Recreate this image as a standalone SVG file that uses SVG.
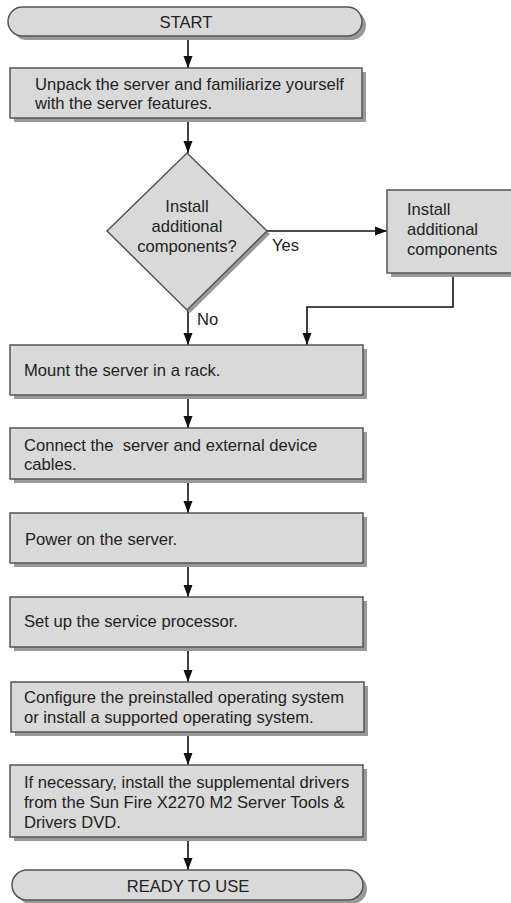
<svg xmlns="http://www.w3.org/2000/svg" width="511" height="903" viewBox="0 0 511 903">
<defs>
<style>
.box{fill:#d9d9d9;stroke:#555;stroke-width:1.5}
.sh{fill:#999}
.t{font-family:"Liberation Sans",Arial,sans-serif;font-size:16.6px;fill:#222}
.c{text-anchor:middle}
.ln{fill:none;stroke:#111;stroke-width:1.6}
</style>
<marker id="ah" markerWidth="12" markerHeight="17" refX="16" refY="6" orient="auto" markerUnits="userSpaceOnUse" viewBox="0 0 16 12">
<path d="M0,0 L16,6 L0,12 Z" fill="#111"/>
</marker>
</defs>
<rect width="511" height="903" fill="#fff"/>
<g id="connectors">
<line class="ln" x1="188" y1="37" x2="188" y2="68" marker-end="url(#ah)"/>
<line class="ln" x1="188" y1="118" x2="188" y2="153" marker-end="url(#ah)"/>
<line class="ln" x1="267" y1="231" x2="387" y2="231" marker-end="url(#ah)"/>
<polyline class="ln" points="453,273 453,307 307,307 307,345" marker-end="url(#ah)"/>
<line class="ln" x1="188" y1="310" x2="188" y2="345" marker-end="url(#ah)"/>
<line class="ln" x1="188" y1="395" x2="188" y2="428" marker-end="url(#ah)"/>
<line class="ln" x1="188" y1="479" x2="188" y2="513" marker-end="url(#ah)"/>
<line class="ln" x1="188" y1="563" x2="188" y2="597" marker-end="url(#ah)"/>
<line class="ln" x1="188" y1="647" x2="188" y2="682" marker-end="url(#ah)"/>
<line class="ln" x1="188" y1="732" x2="188" y2="765" marker-end="url(#ah)"/>
<line class="ln" x1="188" y1="837" x2="188" y2="870" marker-end="url(#ah)"/>
<text class="t" x="272" y="251">Yes</text>
<text class="t" x="197" y="325">No</text>
</g>
<g id="start">
<rect class="sh" x="12" y="11" width="354" height="29" rx="14.5"/>
<rect class="box" x="8" y="7" width="354" height="29" rx="14.5"/>
<text class="t c" x="186" y="28">START</text>
</g>
<g id="unpack">
<rect class="sh" x="14" y="72" width="352" height="50"/>
<rect class="box" x="10" y="68" width="352" height="50"/>
<text class="t" x="35" y="90">Unpack the server and familiarize yourself</text>
<text class="t" x="35" y="109">with the server features.</text>
</g>
<g id="decision">
<polygon class="sh" points="190,156 270,234 190,313 110,234"/>
<polygon class="box" points="187,153 267,231 187,310 107,231"/>
<text class="t c" x="187" y="212">Install</text>
<text class="t c" x="187" y="232">additional</text>
<text class="t c" x="187" y="252">components?</text>
</g>
<g id="install">
<rect class="sh" x="391" y="194" width="124" height="83"/>
<rect class="box" x="387" y="190" width="126" height="83"/>
<text class="t" x="407" y="215">Install</text>
<text class="t" x="407" y="235">additional</text>
<text class="t" x="407" y="255">components</text>
</g>
<g id="mount">
<rect class="sh" x="14" y="349" width="353" height="50"/>
<rect class="box" x="10" y="345" width="353" height="50"/>
<text class="t" x="24" y="376">Mount the server in a rack.</text>
</g>
<g id="connect">
<rect class="sh" x="14" y="432" width="353" height="51"/>
<rect class="box" x="10" y="428" width="353" height="51"/>
<text class="t" x="24" y="451" xml:space="preserve">Connect the  server and external device</text>
<text class="t" x="24" y="470">cables.</text>
</g>
<g id="power">
<rect class="sh" x="14" y="517" width="353" height="50"/>
<rect class="box" x="10" y="513" width="353" height="50"/>
<text class="t" x="25" y="545">Power on the server.</text>
</g>
<g id="sp">
<rect class="sh" x="14" y="601" width="353" height="50"/>
<rect class="box" x="10" y="597" width="353" height="50"/>
<text class="t" x="24" y="627">Set up the service processor.</text>
</g>
<g id="os">
<rect class="sh" x="15" y="686" width="353" height="50"/>
<rect class="box" x="11" y="682" width="353" height="50"/>
<text class="t" x="24" y="703">Configure the preinstalled operating system</text>
<text class="t" x="24" y="723">or install a supported operating system.</text>
</g>
<g id="drivers">
<rect class="sh" x="14" y="769" width="353" height="72"/>
<rect class="box" x="10" y="765" width="353" height="72"/>
<text class="t" x="24" y="788">If necessary, install the supplemental drivers</text>
<text class="t" x="24" y="808">from the Sun Fire X2270 M2 Server Tools &amp;</text>
<text class="t" x="24" y="828">Drivers DVD.</text>
</g>
<g id="ready">
<rect class="sh" x="16" y="874" width="351" height="30" rx="15"/>
<rect class="box" x="12" y="870" width="351" height="30" rx="15"/>
<text class="t c" x="188" y="892">READY TO USE</text>
</g>
</svg>
